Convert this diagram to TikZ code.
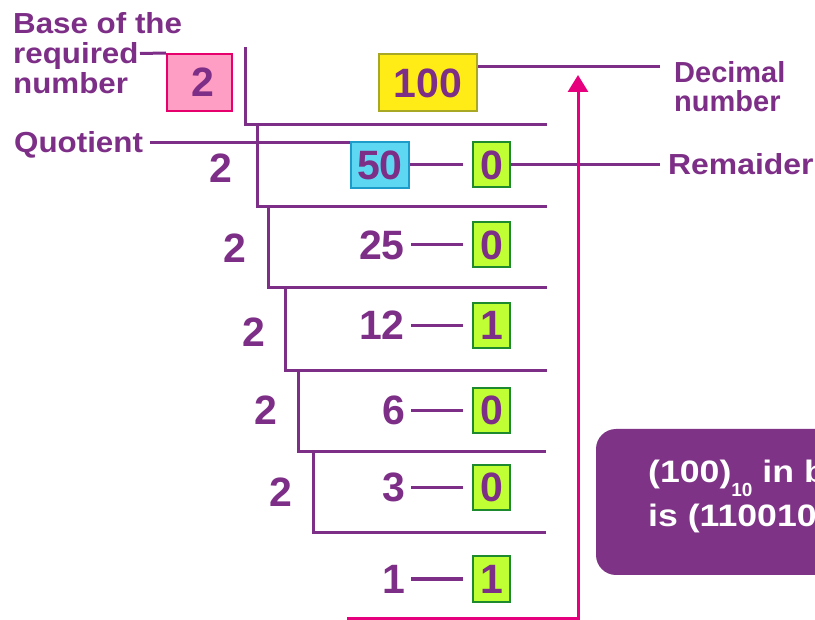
\documentclass[tikz,border=0pt]{standalone}
\usepackage{graphicx}
\usepackage{fontspec}
\setmainfont{Liberation Sans}
\usetikzlibrary{arrows.meta}
\definecolor{pur}{RGB}{125,46,134}
\definecolor{boxp}{RGB}{126,51,134}
\definecolor{pinkf}{RGB}{255,158,196}
\definecolor{pinkb}{RGB}{229,0,107}
\definecolor{yf}{RGB}{255,236,23}
\definecolor{yb}{RGB}{168,168,37}
\definecolor{cf}{RGB}{94,215,243}
\definecolor{cb}{RGB}{29,155,201}
\definecolor{gf}{RGB}{192,255,51}
\definecolor{gb}{RGB}{30,138,46}
\definecolor{arr}{RGB}{230,0,126}
\newcommand\wideln[1]{\scalebox{1.08}[1]{#1}}
\newcommand\widerz[1]{\scalebox{1.15}[1]{#1}}
\tikzset{
  lbl/.style={font=\fontsize{29}{30}\selectfont\bfseries, text=pur, inner sep=0pt, align=left},
  num/.style={font=\fontsize{41}{41}\selectfont\bfseries, text=pur, inner sep=0pt},
  rembox/.style={num, draw=gb, fill=gf, line width=2pt, minimum width=37pt, minimum height=45pt},
  restext/.style={inner sep=0pt, anchor=base west, text=white, font=\fontsize{31}{31}\selectfont\bfseries},
  ln/.style={draw=pur, line width=3pt},
}
\begin{document}
\begin{tikzpicture}[x=1pt,y=-1pt]
\useasboundingbox (0,0) rectangle (815,620);
\clip (0,0) rectangle (815,620);
% result box
\fill[boxp, rounded corners=20pt] (596,429) rectangle (900,575);
\node[restext] (res1) at (648,483) {\widerz{(100)}\raisebox{-14pt}{\fontsize{19}{19}\selectfont 10}\widerz{ in binary}};
\node[restext] (res2) at (648,527) {\widerz{is (1100100)}\raisebox{-14pt}{\fontsize{19}{19}\selectfont 2}};
% labels
\node[lbl, anchor=north west] (base) at (13,12) {\wideln{Base of the}\\[0pt]\wideln{required}\\[0pt]\wideln{number}};
\node[lbl, anchor=base west] (quo) at (14,153) {\wideln{Quotient}};
\node[lbl, anchor=north west] (declbl) at (674,61) {Decimal\\[-1pt]number};
\node[lbl, anchor=base west] (remlbl) at (668,175) {\scalebox{1.1}[1]{Remaider}};
% top boxes
\node[num, draw=pinkb, fill=pinkf, line width=2pt, minimum width=65pt, minimum height=57pt] (b2) at (199.5,82.5) {\hspace{6pt}2};
\node[num, draw=yb, fill=yf, line width=2pt, minimum width=98pt, minimum height=57pt] (d) at (428,83) {100};
\node[num, draw=cb, fill=cf, line width=2pt, minimum width=58pt, minimum height=46pt] (q50) at (380,165) {50};
% bracket lines
\draw[ln] (245,47) |- (547,125);
\draw[ln] (257,125) |- (547,207);
\draw[ln] (268,207) |- (547,288);
\draw[ln] (285,288) |- (547,371);
\draw[ln] (298,371) |- (546,452);
\draw[ln] (313,452) |- (546,533);
% divisors
\node[num] (dv1) at (221,168) {2};
\node[num] (dv2) at (235,248) {2};
\node[num] (dv3) at (254,332) {2};
\node[num] (dv4) at (266,410) {2};
\node[num] (dv5) at (281,492) {2};
% quotients
\node[num, anchor=east] (q25) at (405,245) {25};
\node[num, anchor=east] (q12) at (405,325.5) {12};
\node[num, anchor=east] (q6) at (405,410.5) {6};
\node[num, anchor=east] (q3) at (405,487.5) {3};
\node[num, anchor=east] (q1) at (405,579) {1};
% remainders
\node[rembox] (r1) at (491.5,165) {0};
\node[rembox] (r2) at (491.5,245) {0};
\node[rembox] (r3) at (491.5,325.5) {1};
\node[rembox] (r4) at (491.5,410.5) {0};
\node[rembox] (r5) at (491.5,487.5) {0};
\node[rembox] (r6) at (491.5,579) {1};
% connectors
\coordinate (bl) at (140,53.5);
\draw[ln] (bl) -- (b2.north west);
\coordinate (ql) at (150,143);
\draw[ln] (ql) -- (q50.west |- ql);
\coordinate (dl) at (660,67);
\draw[ln] (d.east |- dl) -- (dl);
\draw[ln, shorten >=8pt] (r1.east) -- (remlbl.west |- r1.east);
\draw[ln, shorten >=9pt] (q50.east) -- (r1.west);
\draw[ln, shorten <=6pt, shorten >=9pt] (q25.east) -- (r2.west);
\draw[ln, shorten <=6pt, shorten >=9pt] (q12.east) -- (r3.west);
\draw[ln, shorten <=6pt, shorten >=9pt] (q6.east) -- (r4.west);
\draw[ln, shorten <=6pt, shorten >=9pt] (q3.east) -- (r5.west);
\draw[ln, shorten <=6pt, shorten >=9pt] (q1.east) -- (r6.west);
% reading arrow
\coordinate (as) at (347,618);
\coordinate (ac) at (578,618);
\coordinate (ae) at (578,75);
\draw[arr, line width=3pt, -{Triangle[length=17pt,width=20pt]}] (as) -- (ac) -- (ae);
\end{tikzpicture}
\end{document}
